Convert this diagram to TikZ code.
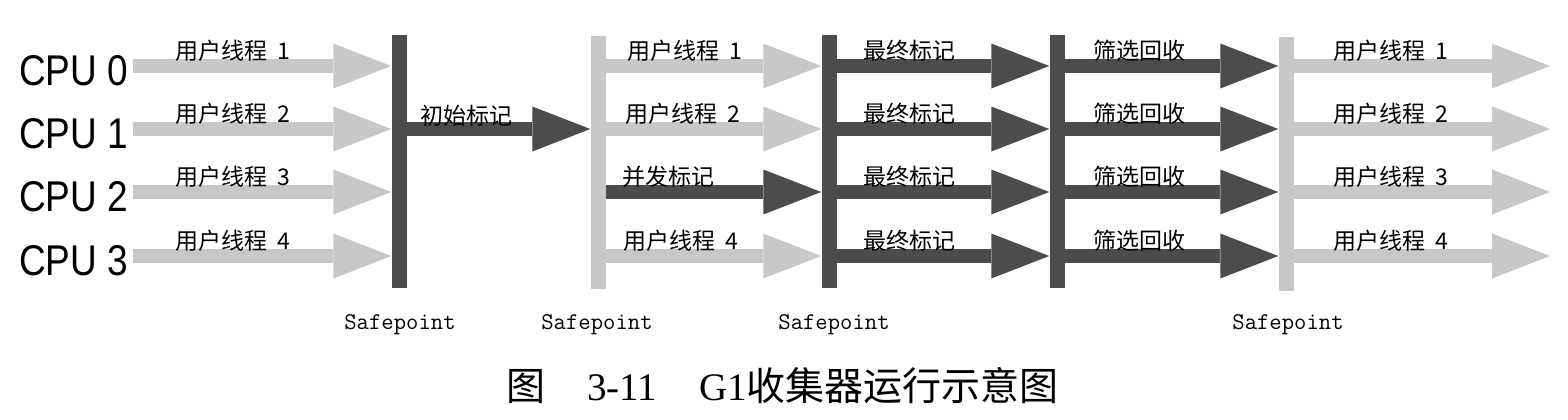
\documentclass[tikz,border=0pt]{standalone}
\usepackage{fontspec}
\setmainfont{Liberation Sans}
\newfontfamily\cpufont{Liberation Sans}[FakeStretch=0.86]
\newfontfamily\cjk{Noto Sans CJK SC}
\newfontfamily\capserif{Liberation Serif}
\usetikzlibrary{arrows.meta}
\definecolor{usergray}{RGB}{200,200,200}
\definecolor{gcgray}{RGB}{76,76,76}
\begin{document}
\begin{tikzpicture}[x=1pt,y=-1pt,
  bar/.style={minimum width=15pt,minimum height=253pt,inner sep=0pt},
  user/.style={usergray,line width=14pt,-{Triangle[length=58pt,width=45pt,line width=0pt]}},
  gc/.style={gcgray,line width=14pt,-{Triangle[length=58pt,width=45pt,line width=0pt]}},
  lbl/.style={anchor=west,inner sep=0pt,font=\cjk\fontsize{23}{23}\selectfont},
  cpu/.style={anchor=west,inner sep=0pt,font=\cpufont\fontsize{43}{43}\selectfont},
  sp/.style={inner sep=0pt,font=\ttfamily\fontsize{24}{24}\selectfont}]
\useasboundingbox (0,0) rectangle (1568,420);
\node [cpu] (cpu0) at (19,71) {CPU 0};
\node [cpu] (cpu1) at (19,134) {CPU 1};
\node [cpu] (cpu2) at (19,197) {CPU 2};
\node [cpu] (cpu3) at (19,261) {CPU 3};
\coordinate (r0) at (133,66);
\coordinate (r1) at (133,129);
\coordinate (r2) at (133,192);
\coordinate (r3) at (133,256);
\coordinate (fin) at (1550,0);
% safepoints
\node [bar,fill=gcgray] (sp1) at (399,161.5) {};
\node [bar,fill=usergray] (sp2) at (598,162.5) {};
\node [bar,fill=gcgray] (sp3) at (829,161.5) {};
\node [bar,fill=gcgray] (sp4) at (1057,161.5) {};
\node [bar,fill=usergray] (sp5) at (1286,164) {};
% user threads
\draw [user] (r0) -- (sp1.west |- r0);
\draw [user] (r1) -- (sp1.west |- r1);
\draw [user] (r2) -- (sp1.west |- r2);
\draw [user] (r3) -- (sp1.west |- r3);
\draw [gc] (sp1.east |- r1) -- (sp2.west |- r1);
\draw [user] (sp2.east |- r0) -- (sp3.west |- r0);
\draw [user] (sp2.east |- r1) -- (sp3.west |- r1);
\draw [gc] (sp2.east |- r2) -- (sp3.west |- r2);
\draw [user] (sp2.east |- r3) -- (sp3.west |- r3);
\draw [gc] (sp3.east |- r0) -- (sp4.west |- r0);
\draw [gc] (sp3.east |- r1) -- (sp4.west |- r1);
\draw [gc] (sp3.east |- r2) -- (sp4.west |- r2);
\draw [gc] (sp3.east |- r3) -- (sp4.west |- r3);
\draw [gc] (sp4.east |- r0) -- (sp5.west |- r0);
\draw [gc] (sp4.east |- r1) -- (sp5.west |- r1);
\draw [gc] (sp4.east |- r2) -- (sp5.west |- r2);
\draw [gc] (sp4.east |- r3) -- (sp5.west |- r3);
\draw [user] (sp5.east |- r0) -- (fin |- r0);
\draw [user] (sp5.east |- r1) -- (fin |- r1);
\draw [user] (sp5.east |- r2) -- (fin |- r2);
\draw [user] (sp5.east |- r3) -- (fin |- r3);
% labels
\node [lbl] (a0) at (175,51) {用户线程\hspace{0.45em}1};
\node [lbl] (a1) at (175,114) {用户线程\hspace{0.45em}2};
\node [lbl] (a2) at (175,177) {用户线程\hspace{0.45em}3};
\node [lbl] (a3) at (175,241) {用户线程\hspace{0.45em}4};
\node [lbl] (init) at (420,116) {初始标记};
\node [lbl] (b0) at (627,51) {用户线程\hspace{0.45em}1};
\node [lbl] (b1) at (625,114) {用户线程\hspace{0.45em}2};
\node [lbl] (conc) at (622,177) {并发标记};
\node [lbl] (b3) at (623,241) {用户线程\hspace{0.45em}4};
\node [lbl] (f0) at (863,51) {最终标记};
\node [lbl] (f1) at (863,114) {最终标记};
\node [lbl] (f2) at (863,177) {最终标记};
\node [lbl] (f3) at (863,241) {最终标记};
\node [lbl] (s0) at (1093,51) {筛选回收};
\node [lbl] (s1) at (1093,114) {筛选回收};
\node [lbl] (s2) at (1093,177) {筛选回收};
\node [lbl] (s3) at (1093,241) {筛选回收};
\node [lbl] (c0) at (1333,51) {用户线程\hspace{0.45em}1};
\node [lbl] (c1) at (1333,114) {用户线程\hspace{0.45em}2};
\node [lbl] (c2) at (1333,177) {用户线程\hspace{0.45em}3};
\node [lbl] (c3) at (1333,241) {用户线程\hspace{0.45em}4};
\node [sp] (sn1) at (400,325) {Safepoint};
\node [sp] (sn2) at (597,325) {Safepoint};
\node [sp] (sn3) at (834,325) {Safepoint};
\node [sp] (sn5) at (1288,325) {Safepoint};
\node [anchor=west,inner sep=0pt,font=\fontsize{39}{39}\selectfont] (cap) at (506,386)
  {{\cjk 图}\hspace{42pt}{\capserif 3-11}\hspace{42pt}{\capserif G1}{\cjk 收集器运行示意图}};
\end{tikzpicture}
\end{document}
